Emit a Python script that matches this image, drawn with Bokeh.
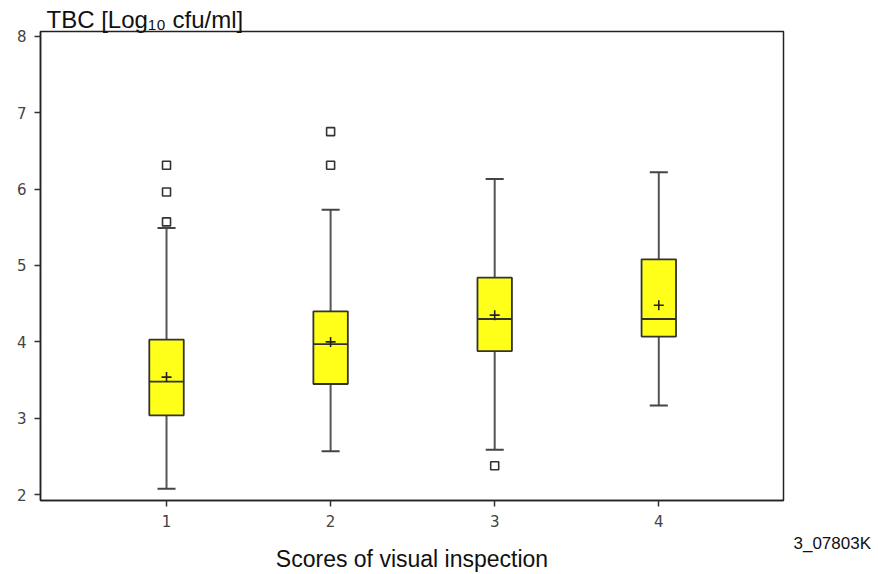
from bokeh.plotting import figure
from bokeh.models import ColumnDataSource, FixedTicker, Label, Range1d
from bokeh.embed import file_html
from bokeh.resources import INLINE

# Visual inspection score groups and TBC box statistics (log10 cfu/ml)
scores = [1, 2, 3, 4]
q1 = [3.04, 3.45, 3.88, 4.07]
median = [3.48, 3.97, 4.30, 4.30]
q3 = [4.03, 4.40, 4.84, 5.08]
whisker_low = [2.08, 2.57, 2.59, 3.17]
whisker_high = [5.49, 5.73, 6.13, 6.22]
means = [3.54, 4.00, 4.35, 4.48]

outlier_score = [1, 1, 1, 2, 2, 3]
outlier_value = [5.57, 5.96, 6.31, 6.31, 6.75, 2.38]

y_ticks = [2, 3, 4, 5, 6, 7, 8]

BOX_W = 0.21
CAP_W = 0.11
FILL = "#ffff1a"
EDGE = "#333333"

p = figure(width=878, height=574, output_backend="svg", toolbar_location=None,
           x_range=Range1d(0.232, 4.76), y_range=Range1d(1.926, 8.06),
           min_border_left=40, min_border_right=95, min_border_top=31, min_border_bottom=73)
p.grid.visible = False
p.outline_line_color = "#222222"
p.outline_line_width = 1.5
p.background_fill_color = "white"
p.border_fill_color = "white"

src = ColumnDataSource(dict(
    x=scores, q1=q1, med=median, q3=q3, lo=whisker_low, hi=whisker_high, mean=means,
    xl=[s - BOX_W / 2 for s in scores], xr=[s + BOX_W / 2 for s in scores],
    cl=[s - CAP_W / 2 for s in scores], cr=[s + CAP_W / 2 for s in scores],
))

# whiskers
p.segment(x0="x", y0="q3", x1="x", y1="hi", source=src, line_color="#555555", line_width=2)
p.segment(x0="x", y0="lo", x1="x", y1="q1", source=src, line_color="#555555", line_width=2)
p.segment(x0="cl", y0="hi", x1="cr", y1="hi", source=src, line_color="#444444", line_width=2)
p.segment(x0="cl", y0="lo", x1="cr", y1="lo", source=src, line_color="#444444", line_width=2)

# boxes, medians and means
p.vbar(x="x", width=BOX_W, bottom="q1", top="q3", source=src,
       fill_color=FILL, line_color=EDGE, line_width=1.8)
p.segment(x0="xl", y0="med", x1="xr", y1="med", source=src, line_color=EDGE, line_width=1.8)
p.scatter(x="x", y="mean", source=src, marker="cross", size=10,
          line_color="#222222", line_width=1.6)

# outliers
p.scatter(x=outlier_score, y=outlier_value, marker="square", size=8,
          fill_color="white", line_color="#333333", line_width=1.6)

# axes
for ax in (p.xaxis[0], p.yaxis[0]):
    ax.axis_line_color = "#222222"
    ax.axis_line_width = 1.5
    ax.major_tick_line_color = "#333333"
    ax.major_tick_line_width = 1.5
    ax.major_tick_in = 0
    ax.major_tick_out = 6
    ax.minor_tick_line_color = None
    ax.major_label_text_font = "DejaVu Sans"
    ax.major_label_text_font_size = "15px"
    ax.major_label_text_color = "#444444"

p.xaxis.ticker = FixedTicker(ticks=scores)
p.yaxis.ticker = FixedTicker(ticks=y_ticks)
p.xaxis.major_label_standoff = 8
p.yaxis.major_label_standoff = 8

p.xaxis.axis_label = "Scores of visual inspection"
p.xaxis.axis_label_text_font = "Liberation Sans"
p.xaxis.axis_label_text_font_style = "normal"
p.xaxis.axis_label_text_font_size = "23px"
p.xaxis.axis_label_text_color = "#111111"
p.xaxis.axis_label_standoff = 16

# y-axis title, in the panel above the frame
p.add_layout(Label(x=6, y=12, x_units="screen", y_units="screen", text="TBC [Log₁₀ cfu/ml]",
                   text_font="Liberation Sans", text_font_size="24px",
                   text_color="#111111", text_baseline="alphabetic"), "above")

# figure code, in the panel right of the frame
p.add_layout(Label(x=10, y=-43, x_units="screen", y_units="screen", text="3_07803K",
                   text_font="Liberation Sans", text_font_size="17px",
                   text_color="#111111", text_baseline="alphabetic"), "right")

open("out.html", "w").write(file_html(p, INLINE))
